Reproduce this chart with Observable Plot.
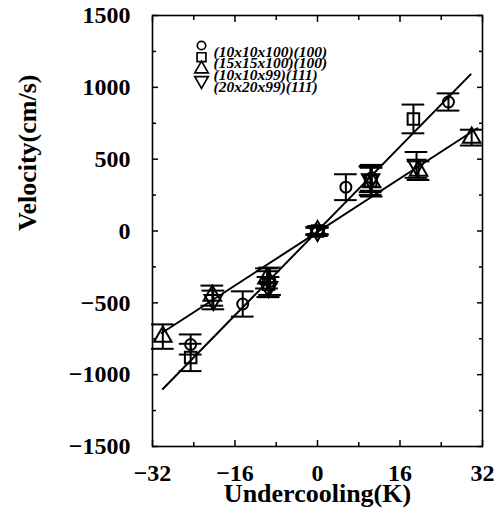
<!DOCTYPE html>
<html><head><meta charset="utf-8">
<script src="https://cdn.jsdelivr.net/npm/d3@7"></script>
<script src="https://cdn.jsdelivr.net/npm/@observablehq/plot@0.6"></script>
<style>body{margin:0;background:#fff} #chart{width:502px;height:525px}</style>
</head><body><div id="chart"></div>
<script>
// ---- data ----
const seriesNames = ["(10x10x100)(100)", "(15x15x100)(100)", "(10x10x99)(111)", "(20x20x99)(111)"];
const seriesSymbols = ["circle", "square", "triangle", "triangle"];
const seriesRotate = [0, 0, 0, 180];

const circleX = [-24.6, -14.5, -9.2, 0, 5.5, 10.5, 25.4];
const circleY = [-790, -508, -350, 0, 305, 370, 898];
const circleErr = [70, 88, 95, 25, 90, 90, 60];

const squareX = [-24.6, -9.5, 0, 10.3, 18.6];
const squareY = [-880, -370, 0, 350, 780];
const squareErr = [95, 90, 25, 100, 100];

const upTriX = [-30.0, -20.4, -9.8, 0, 10.5, 19.6, 29.9];
const upTriY = [-735, -450, -330, 0, 340, 420, 650];
const upTriErr = [85, 70, 70, 25, 100, 65, 55];

const downTriX = [-20.2, -9.5, 0, 10.3, 19.2];
const downTriY = [-480, -390, 0, 360, 460];
const downTriErr = [65, 70, 25, 90, 90];

const steepLineX = [-30.0, 29.7];
const steepLineY = [-1100, 1090];
const shallowLineX = [-30.2, 31.0];
const shallowLineY = [-710, 715];

const xMajor = [-32, -16, 0, 16, 32];
const xMinor = [-24, -8, 8, 24];
const yMajor = [-1500, -1000, -500, 0, 500, 1000, 1500];
const yMinor = [-1250, -750, -250, 250, 750, 1250];
const xLabel = "Undercooling(K)";
const yLabel = "Velocity(cm/s)";

// ---- build tables ----
const seriesX = [circleX, squareX, upTriX, downTriX];
const seriesY = [circleY, squareY, upTriY, downTriY];
const seriesE = [circleErr, squareErr, upTriErr, downTriErr];
const points = [];
seriesNames.forEach((name, s) => {
  seriesX[s].forEach((x, i) => points.push({s, x, y: seriesY[s][i], e: seriesE[s][i]}));
});
const steep = steepLineX.map((x, i) => ({x, y: steepLineY[i]}));
const shallow = shallowLineX.map((x, i) => ({x, y: shallowLineY[i]}));

const fmt = d => d < 0 ? "\u2212" + Math.abs(d) : String(d);
const serif = "'Liberation Serif', 'Times New Roman', serif";
const capHalf = 2.2;

const marks = [
  Plot.frame({stroke: "black", strokeWidth: 1.6}),
  // inward ticks
  Plot.axisX({anchor: "bottom", ticks: xMajor, tickSize: -6, tickFormat: () => "", label: null, strokeWidth: 1.5}),
  Plot.axisX({anchor: "bottom", ticks: xMinor, tickSize: -4, tickFormat: () => "", label: null, strokeWidth: 1.5}),
  Plot.axisX({anchor: "top", ticks: xMajor, tickSize: -6, tickFormat: () => "", label: null, strokeWidth: 1.5}),
  Plot.axisX({anchor: "top", ticks: xMinor, tickSize: -4, tickFormat: () => "", label: null, strokeWidth: 1.5}),
  Plot.axisY({anchor: "left", ticks: yMajor, tickSize: -6, tickFormat: () => "", label: null, strokeWidth: 1.5}),
  Plot.axisY({anchor: "left", ticks: yMinor, tickSize: -4, tickFormat: () => "", label: null, strokeWidth: 1.5}),
  Plot.axisY({anchor: "right", ticks: yMajor, tickSize: -6, tickFormat: () => "", label: null, strokeWidth: 1.5}),
  Plot.axisY({anchor: "right", ticks: yMinor, tickSize: -4, tickFormat: () => "", label: null, strokeWidth: 1.5}),
  // tick labels
  Plot.axisX({anchor: "bottom", ticks: xMajor, tickSize: 0, tickPadding: 17, tickFormat: fmt, label: null,
    fontSize: 24, fontWeight: "bold", fontFamily: serif}),
  Plot.axisY({anchor: "left", ticks: yMajor, tickSize: 0, tickPadding: 22, tickFormat: fmt, label: null,
    fontSize: 24, fontWeight: "bold", fontFamily: serif}),
  // axis titles
  Plot.text([xLabel], {frameAnchor: "bottom", dy: 55, text: d => d, fontSize: 26, fontWeight: "bold", fontFamily: serif, fill: "black"}),
  Plot.text([yLabel], {frameAnchor: "left", dx: -125, rotate: -90, text: d => d, fontSize: 26, fontWeight: "bold", fontFamily: serif, fill: "black"}),
  // fitted lines
  Plot.line(steep, {x: "x", y: "y", stroke: "black", strokeWidth: 2}),
  Plot.line(shallow, {x: "x", y: "y", stroke: "black", strokeWidth: 2}),
  // error bars
  Plot.ruleX(points, {x: "x", y1: d => d.y - d.e, y2: d => d.y + d.e, stroke: "black", strokeWidth: 2}),
  Plot.ruleY(points, {y: d => d.y + d.e, x1: d => d.x - capHalf, x2: d => d.x + capHalf, stroke: "black", strokeWidth: 2}),
  Plot.ruleY(points, {y: d => d.y - d.e, x1: d => d.x - capHalf, x2: d => d.x + capHalf, stroke: "black", strokeWidth: 2})
];
// markers
seriesNames.forEach((name, s) => {
  marks.push(Plot.dot(points.filter(d => d.s === s), {x: "x", y: "y", symbol: seriesSymbols[s], rotate: seriesRotate[s],
    r: s === 0 ? 5.5 : 6.5, fill: "none", stroke: "black", strokeWidth: 2}));
});
// legend inside frame
seriesNames.forEach((name, s) => {
  marks.push(Plot.dot([name], {frameAnchor: "top-left", dx: 49, dy: 30 + s * 11.7, symbol: seriesSymbols[s], rotate: seriesRotate[s],
    r: s === 0 ? 4.2 : 5, fill: "none", stroke: "black", strokeWidth: 1.7}));
  marks.push(Plot.text([name], {frameAnchor: "top-left", dx: 61, dy: 30 + s * 11.7, text: d => d, textAnchor: "start",
    fontSize: 15.5, fontWeight: "bold", fontStyle: "italic", fontFamily: serif, fill: "black"}));
});

const chart = Plot.plot({
  width: 502, height: 525,
  marginLeft: 152, marginRight: 20, marginTop: 15, marginBottom: 79,
  x: {domain: [-32, 32]},
  y: {domain: [-1500, 1500]},
  style: {fontFamily: serif, background: "white", color: "black"},
  marks
});
document.getElementById("chart").appendChild(chart);
</script>
</body></html>
